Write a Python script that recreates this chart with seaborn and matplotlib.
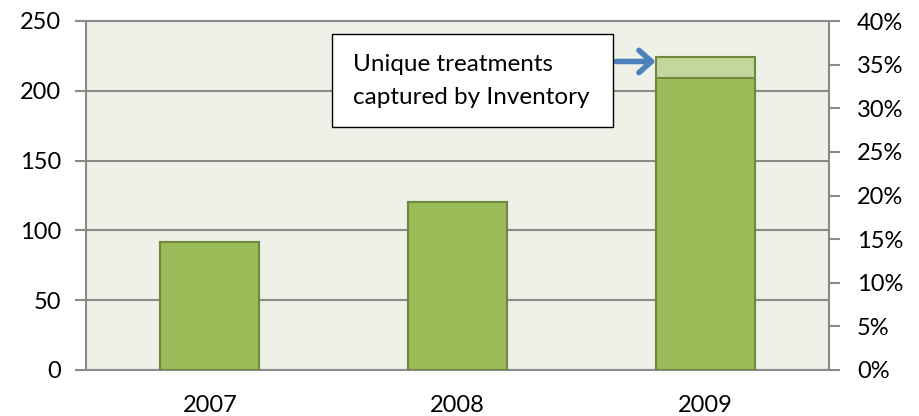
import matplotlib
matplotlib.use("Agg")
import matplotlib.pyplot as plt
from matplotlib.patches import Rectangle
from matplotlib.ticker import FuncFormatter
import seaborn as sns

years = ["2007", "2008", "2009"]
treatments = [92, 120, 209]
unique_extra = [0, 0, 15]
left_ticks = [0, 50, 100, 150, 200, 250]
right_ticks = [0, 0.05, 0.10, 0.15, 0.20, 0.25, 0.30, 0.35, 0.40]
note = "Unique treatments\ncaptured by Inventory"

dark_green = "#9bbb59"
light_green = "#c3d69b"
edge_green = "#71893f"
grid_grey = "#8a8a8a"

sns.set_style("white")
plt.rcParams["font.family"] = ["Lato", "DejaVu Sans"]
plt.rcParams["text.color"] = "black"
plt.rcParams["xtick.labelcolor"] = "black"
plt.rcParams["ytick.labelcolor"] = "black"

fig = plt.figure(figsize=(9.19, 4.16), dpi=100)
ax = fig.add_axes([86 / 919, 46 / 416, 743 / 919, 349 / 416])
ax.set_facecolor("#eef1e8")

totals = [a + b for a, b in zip(treatments, unique_extra)]
sns.barplot(x=years, y=totals, color=light_green, edgecolor=edge_green,
            linewidth=1.5, width=0.4, saturation=1, ax=ax, zorder=3)
sns.barplot(x=years, y=treatments, color=dark_green, edgecolor=edge_green,
            linewidth=1.5, width=0.4, saturation=1, ax=ax, zorder=4)

ax.set_xlim(-0.5, 2.5)
ax.set_ylim(0, 250)
ax.set_yticks(left_ticks)
ax.yaxis.grid(True, color=grid_grey, linewidth=1.5, zorder=1)
ax.set_axisbelow(True)

# category boundary ticks, labels centred
ax.set_xticks([-0.5, 0.5, 1.5, 2.5])
ax.set_xticklabels([])
ax.set_xticks(range(len(years)), minor=True)
ax.set_xticklabels(years, minor=True)
ax.tick_params(axis="x", which="major", length=8, width=1.5, color=grid_grey, direction="out")
ax.tick_params(axis="x", which="minor", length=0, pad=18, labelsize=17, labelcolor="black")
ax.tick_params(axis="y", length=8, width=1.5, color=grid_grey, direction="out",
               labelsize=17, pad=10, labelcolor="black")
ax.set_xlabel("")
ax.set_ylabel("")

for side in ["left", "bottom", "top"]:
    ax.spines[side].set_color(grid_grey)
    ax.spines[side].set_linewidth(1.5)
ax.spines["right"].set_visible(False)

ax2 = ax.twinx()
ax2.set_ylim(0, 0.40)
ax2.set_yticks(right_ticks)
ax2.yaxis.set_major_formatter(FuncFormatter(lambda v, p: f"{v * 100:.0f}%"))
ax2.tick_params(axis="y", length=8, width=1.5, color=grid_grey, direction="out",
                labelsize=17, pad=12, labelcolor="black")
for side in ["left", "top", "bottom"]:
    ax2.spines[side].set_visible(False)
ax2.spines["right"].set_color(grid_grey)
ax2.spines["right"].set_linewidth(1.5)

# callout box
box = Rectangle((332 / 919, 1 - 127 / 416), 281 / 919, 93 / 416,
                transform=fig.transFigure, facecolor="white",
                edgecolor="black", linewidth=1, zorder=10)
fig.patches.append(box)
fig.text(353 / 919, 1 - 81 / 416, note, fontsize=17.5, ha="left", va="center",
         linespacing=1.7, color="black", zorder=11)
arrow_y = 221
ax.annotate("", xy=(1.8, arrow_y), xycoords="data",
            xytext=(1.64, arrow_y), textcoords="data",
            arrowprops=dict(arrowstyle="->,head_length=0.45,head_width=0.4",
                            color="#4f81bd", linewidth=4, shrinkA=0, shrinkB=0,
                            mutation_scale=20),
            zorder=12, annotation_clip=False)

fig.savefig("out.png", dpi=100)
